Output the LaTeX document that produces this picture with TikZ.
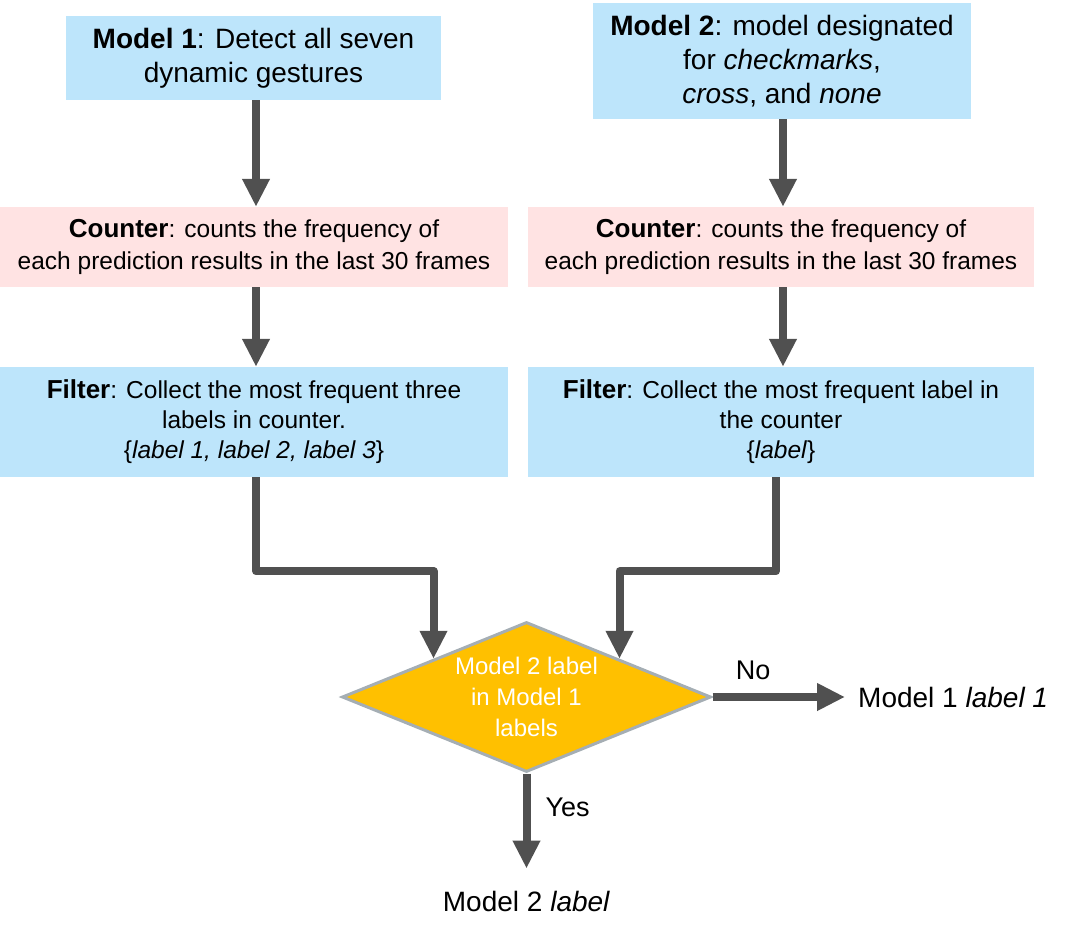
\documentclass[tikz,border=0pt]{standalone}
\usepackage{fontspec}
\setmainfont{Liberation Sans}
\usetikzlibrary{arrows.meta,shapes.geometric,calc}
\definecolor{boxblue}{HTML}{BDE5FB}
\definecolor{boxpink}{HTML}{FFE3E3}
\definecolor{arrgray}{HTML}{505050}
\definecolor{dfill}{HTML}{FFC000}
\definecolor{dborder}{HTML}{A5AEB4}
\newcommand{\myfs}[2]{\fontsize{#1}{#2}\selectfont}
\begin{document}
\begin{tikzpicture}[x=1pt,y=-1pt,
  bluebox/.style={rectangle, fill=boxblue, draw=none, align=center, inner sep=0pt},
  pinkbox/.style={rectangle, fill=boxpink, draw=none, align=center, inner sep=0pt},
  arr/.style={draw=arrgray, line width=8pt, line join=round,
              -{Triangle[width=26pt,length=28pt]}},
  plain/.style={inner sep=0pt, font={\myfs{28}{34}}},
  small/.style={inner sep=0pt, font={\myfs{27}{32}}}
]
\useasboundingbox (0,0) rectangle (1069,937);

% top boxes
\node[bluebox, minimum width=375pt, minimum height=84pt, font={\myfs{28}{34}}] (m1) at (253.5,58)
  {\textbf{Model 1}: Detect all seven\\dynamic gestures};
\node[bluebox, minimum width=378pt, minimum height=116pt, font={\myfs{28}{34}}] (m2) at (782,61)
  {\textbf{Model 2}: model designated\\for \textit{checkmarks},\\\textit{cross}, and \textit{none}};

% counters
\node[pinkbox, minimum width=508pt, minimum height=80pt, font={\myfs{24.5}{32}}] (c1) at (254,247)
  {{\myfs{26}{32}\textbf{Counter}}: counts the frequency of\\each prediction results in the last 30 frames};
\node[pinkbox, minimum width=506pt, minimum height=80pt, font={\myfs{24.5}{32}}] (c2) at (781,247)
  {{\myfs{26}{32}\textbf{Counter}}: counts the frequency of\\each prediction results in the last 30 frames};

% filters
\node[bluebox, minimum width=508pt, minimum height=110pt, font={\myfs{24.5}{30}}] (f1) at (254,422)
  {{\myfs{26}{30}\textbf{Filter}}: Collect the most frequent three\\labels in counter.\\\{\textit{label 1, label 2, label 3}\}};
\node[bluebox, minimum width=506pt, minimum height=110pt, font={\myfs{24.5}{30}}] (f2) at (781,422)
  {{\myfs{26}{30}\textbf{Filter}}: Collect the most frequent label in\\the counter\\\{\textit{label}\}};

% decision
\node[diamond, aspect=2.46, minimum width=369pt, minimum height=150pt, inner sep=0pt,
      fill=dfill, draw=dborder, line width=3pt, text=white, align=center,
      font={\myfs{24}{31}}] (d) at (526.5,697)
  {Model 2 label\\in Model 1\\labels};

% outputs
\node[plain, anchor=west] (o1) at (858,697) {Model 1 \textit{label 1}};
\node[plain] (o2) at (526.5,901) {Model 2 \textit{label}};

% arrows
\draw[arr] (m1.south -| 256,0) -- (c1.north -| 256,0);
\draw[arr] (c1.south -| 256,0) -- (f1.north -| 256,0);
\draw[arr] (m2.south -| 783,0) -- (c2.north -| 783,0);
\draw[arr] (c2.south -| 783,0) -- (f2.north -| 783,0);
\draw[arr] (f1.south -| 256,0) -- ++(0,94) -| (d.north west);
\draw[arr] (f2.south -| 776,0) -- ++(0,94) -| (d.north east);
\draw[arr, shorten >=13pt] (d.east) -- (o1.west)
  node[pos=0.28, above=13pt, small, text=black] (no) {No};
\draw[arr, shorten >=22pt] (d.south) -- (o2.north)
  node[pos=0.29, right=15pt, small, text=black] (yes) {Yes};
\end{tikzpicture}
\end{document}
